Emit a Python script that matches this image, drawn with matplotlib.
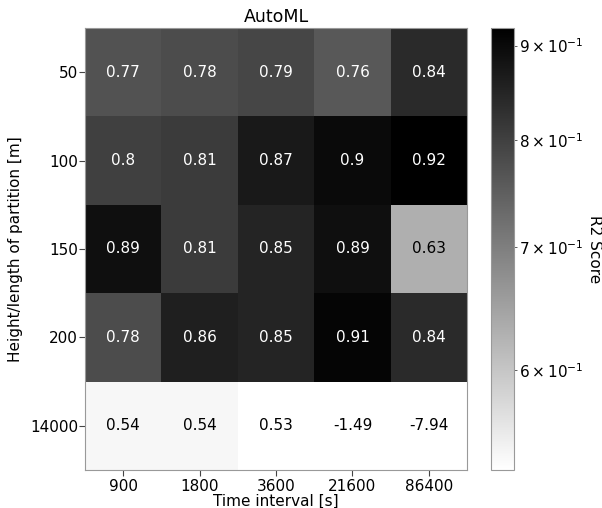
import numpy as np
import matplotlib; matplotlib.use("Agg")
import matplotlib.pyplot as plt
from matplotlib.colors import LogNorm

times = ["900", "1800", "3600", "21600", "86400"]
heights = ["50", "100", "150", "200", "14000"]
r2 = [
    [0.77, 0.78, 0.79, 0.76, 0.84],
    [0.80, 0.81, 0.87, 0.90, 0.92],
    [0.89, 0.81, 0.85, 0.89, 0.63],
    [0.78, 0.86, 0.85, 0.91, 0.84],
    [0.54, 0.54, 0.53, -1.49, -7.94],
]

plt.rcParams.update({"font.family": "DejaVu Sans", "font.size": 11})

data = np.array(r2)
masked = np.ma.masked_less_equal(data, 0)
norm = LogNorm(vmin=masked.min(), vmax=masked.max())
cmap = plt.get_cmap("gray_r")

fig = plt.figure(figsize=(6.02, 5.08), dpi=100)
ax = fig.add_axes([0.141, 0.075, 0.635, 0.870])
cax = fig.add_axes([0.816, 0.075, 0.037, 0.870])

mesh = ax.pcolormesh(masked, cmap=cmap, norm=norm)
ax.set_xlim(0, 5); ax.set_ylim(5, 0)
ax.set_xticks(np.arange(5) + 0.5); ax.set_xticklabels(times)
ax.set_yticks(np.arange(5) + 0.5); ax.set_yticklabels(heights)
ax.set_xlabel("Time interval [s]", labelpad=0)
ax.set_ylabel("Height/length of partition [m]", labelpad=5)
ax.set_title("AutoML", fontsize=12.5, pad=4)
for s in ax.spines.values():
    s.set_color("#999999"); s.set_linewidth(0.8)
ax.tick_params(color="#444444", length=4)
ax.tick_params(axis="x", pad=2.5)
ax.tick_params(axis="y", pad=1)

for i in range(5):
    for j in range(5):
        v = data[i, j]
        if v > 0:
            r, g, b, _ = cmap(norm(v))
            lum = 0.2126 * r + 0.7152 * g + 0.0722 * b
            col = "white" if lum < 0.408 else "black"
        else:
            col = "black"
        ax.text(j + 0.5, i + 0.5, "%g" % v, ha="center", va="center", color=col, fontsize=11)

cb = fig.colorbar(mesh, cax=cax)
cb.outline.set_edgecolor("#999999"); cb.outline.set_linewidth(0.8)
cax.tick_params(which="both", color="#444444", pad=2)
fig.text(0.988, 0.075 + 0.870 / 2, "R2 Score", rotation=270, ha="center", va="center", fontsize=11)

fig.savefig("out.png", dpi=100)
